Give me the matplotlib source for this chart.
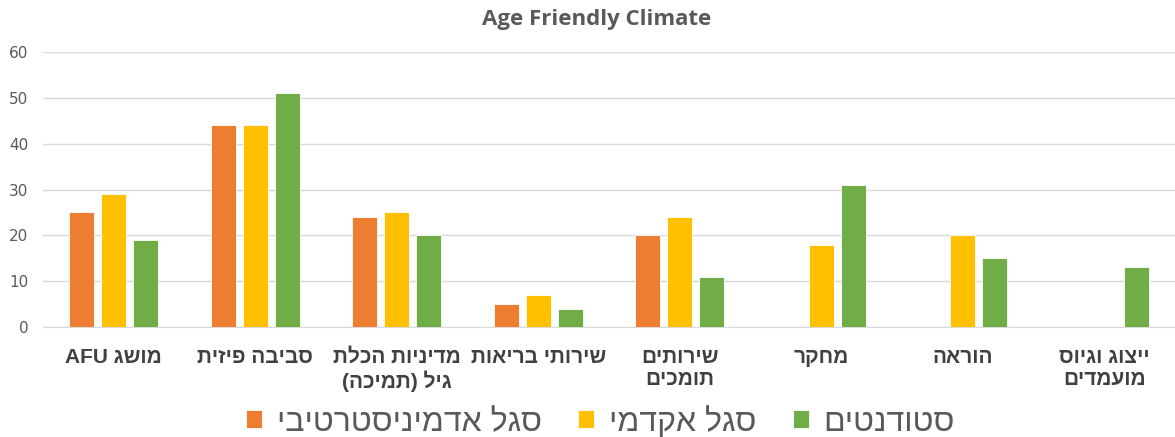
import re

import numpy as np
import matplotlib
matplotlib.use('Agg')
import matplotlib.pyplot as plt

# category labels, logical (typed) order, one entry per line
categories = [
    ['מושג AFU'],
    ['סביבה פיזית'],
    ['מדיניות הכלת', 'גיל (תמיכה)'],
    ['שירותי בריאות'],
    ['שירותים', 'תומכים'],
    ['מחקר'],
    ['הוראה'],
    ['ייצוג וגיוס', 'מועמדים'],
]
series_names = ['סגל אדמיניסטרטיבי', 'סגל אקדמי', 'סטודנטים']
admin_staff = [25, 44, 24, 5, 20, 0, 0, 0]
academic_staff = [29, 44, 25, 7, 24, 18, 20, 0]
students = [19, 51, 20, 4, 11, 31, 15, 13]
y_ticks = [0, 10, 20, 30, 40, 50, 60]

COLORS = ['#ED7D31', '#FFC000', '#70AD47']
HEB_FONT = ['Liberation Sans', 'DejaVu Sans']


def rtl(line):
    """matplotlib has no bidi: flip a Hebrew line into visual order."""
    s = line[::-1]
    s = s.translate(str.maketrans('()', ')('))
    # latin runs must read left-to-right again
    return re.sub(r'[A-Za-z0-9]+', lambda m: m.group(0)[::-1], s)


labels = ['\n'.join(rtl(l) for l in lines) for lines in categories]

fig = plt.figure(figsize=(11.75, 4.37), dpi=100)
ax = fig.add_axes([0.0366, 0.2517, 0.9634, 0.6293])

x = np.arange(len(labels))
width = 0.177
offset = 0.226
for i, (vals, name) in enumerate(zip([admin_staff, academic_staff, students], series_names)):
    ax.bar(x + (i - 1) * offset, vals, width, color=COLORS[i], edgecolor='white',
           linewidth=0.6, label=rtl(name), zorder=3)

ax.set_xlim(-0.5, len(labels) - 0.5)
ax.set_ylim(0, 60)
ax.set_yticks(y_ticks)
ax.yaxis.grid(True, color='#D9D9D9', linewidth=1.0, zorder=0)
ax.set_axisbelow(True)
for side in ['top', 'right', 'left']:
    ax.spines[side].set_visible(False)
ax.spines['bottom'].set_color('#D9D9D9')
ax.tick_params(axis='both', length=0)
ax.tick_params(axis='y', labelsize=11, labelcolor='#595959', pad=10.5)

ax.set_xticks(x)
ax.set_xticklabels(labels, fontsize=15, fontweight='bold', color='#404040',
                   family=HEB_FONT, linespacing=1.2)
ax.tick_params(axis='x', pad=15)

fig.text(0.508, 0.956, 'Age Friendly Climate', ha='center', va='center',
         fontsize=16, fontweight='bold', color='#595959', family='Open Sans')

leg = fig.legend(loc='center', bbox_to_anchor=(0.511, 0.035), ncol=3, frameon=False,
                 prop={'family': HEB_FONT, 'size': 23}, handlelength=0.5,
                 handleheight=0.5, handletextpad=0.45, columnspacing=1.15)
for t in leg.get_texts():
    t.set_color('#595959')

fig.savefig('out.png', dpi=100)
